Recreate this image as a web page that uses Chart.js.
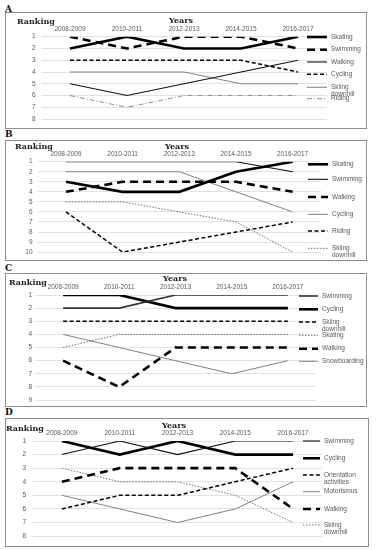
<!DOCTYPE html>
<html>
<head>
<meta charset="utf-8">
<script src="https://cdn.jsdelivr.net/npm/chart.js@4.4.1/dist/chart.umd.min.js"></script>
<style>
  body { margin: 0; width: 376px; height: 550px; background: #fff; position: relative; overflow: hidden; }
  .letter { position: absolute; left: 5px; font: bold 9px "DejaVu Serif", serif; color: #111; line-height: 10px; }
  .box { position: absolute; border: 1.5px solid #8c8c8c; box-sizing: border-box; }
  canvas { position: absolute; }
</style>
</head>
<body>
<script>
// years shown on the top axis
const years = ['2008-2009', '2010-2011', '2012-2013', '2014-2015', '2016-2017'];

// A
const namesA = ['Skating', 'Swimming', 'Walking', 'Cycling', 'Skiing\ndownhill', 'Riding'];
const ranksA = [
  [2, 1, 2, 2, 1],
  [1, 2, 1, 1, 2],
  [5, 6, 5, 4, 3],
  [3, 3, 3, 3, 4],
  [4, 4, 4, 5, 5],
  [6, 7, 6, 6, 6]
];
const maxA = 8;

// B
const namesB = ['Skating', 'Swimming', 'Walking', 'Cycling', 'Riding', 'Skiing\ndownhill'];
const ranksB = [
  [3, 4, 4, 2, 1],
  [1, 1, 1, 1, 2],
  [4, 3, 3, 3, 4],
  [2, 2, 2, 4, 6],
  [6, 10, 9, 8, 7],
  [5, 5, 6, 7, 10]
];
const maxB = 10;

// C
const namesC = ['Swimming', 'Cycling', 'Skiing\ndownhill', 'Skating', 'Walking', 'Snowboarding'];
const ranksC = [
  [2, 2, 1, 1, 1],
  [1, 1, 2, 2, 2],
  [3, 3, 3, 3, 3],
  [5, 4, 4, 4, 4],
  [6, 8, 5, 5, 5],
  [4, 5, 6, 7, 6]
];
const maxC = 9;

// D
const namesD = ['Swimming', 'Cycling', 'Orientation\nactivities', 'Motorismus', 'Walking', 'Skiing\ndownhill'];
const ranksD = [
  [2, 1, 2, 1, 1],
  [1, 2, 1, 2, 2],
  [6, 5, 5, 4, 3],
  [5, 6, 7, 6, 4],
  [4, 3, 3, 3, 6],
  [3, 4, 4, 5, 7]
];
const maxD = 8;

// line looks
const thick = { c: '#000', w: 2.6, d: [] };
const thickDash = { c: '#000', w: 2.6, d: [8, 5] };
const thin = { c: '#111', w: 1.1, d: [] };
const medDash = { c: '#000', w: 1.5, d: [4, 2.5] };
const grey = { c: '#808080', w: 1, d: [] };
const dashDot = { c: '#8c8c8c', w: 1, d: [5, 2, 1, 2] };
const dotted = { c: '#707070', w: 1, d: [1.5, 1.5] };
const medium = { c: '#333', w: 1.6, d: [] };

const SANS = 'Liberation Sans';
const TXT = '#595959';

const panels = [
  { letter: 'A', letterY: 4, box: [5, 12, 362, 117], area: [36.5, 24.7, 321.5, 110.7], max: maxA,
    names: namesA, ranks: ranksA, looks: [thick, thickDash, thin, medDash, grey, dashDot], yPad: 6,
    rank: [12, 9.7], yrs: [164, 8.7], leg: { x0: 302, x1: 322, tx: 326, ys: [25, 37.7, 50, 62.3, 75.3, 86.7] } },
  { letter: 'B', letterY: 129, box: [5, 140, 362, 121], area: [32.6, 21.7, 316, 115.7], max: maxB,
    names: namesB, ranks: ranksB, looks: [thick, thin, thickDash, grey, medDash, dotted], yPad: 5,
    rank: [10, 6.7], yrs: [160, 6.7], leg: { x0: 303, x1: 323, tx: 327, ys: [24.3, 39.3, 57, 74.3, 91, 108.3] } },
  { letter: 'C', letterY: 263, box: [5, 273, 362, 134], area: [30, 22, 311, 127.7], max: maxC,
    names: namesC, ranks: ranksC, looks: [medium, thick, medDash, dotted, thickDash, grey], yPad: 3,
    rank: [4, 9.7], yrs: [158, 6], leg: { x0: 294, x1: 313, tx: 317, ys: [23, 36.3, 49, 62.3, 75.7, 88.3] } },
  { letter: 'D', letterY: 407, box: [5, 418, 364, 129], area: [28, 23, 317, 123], max: maxD,
    names: namesD, ranks: ranksD, looks: [thin, thick, medDash, grey, thickDash, dotted], yPad: 7,
    rank: [1, 11], yrs: [157, 8.3], leg: { x0: 298, x1: 315, tx: 319, ys: [23, 40.3, 57, 73.7, 91, 107] } }
];

// draws the titles and the legend on the right
const extras = {
  id: 'extras',
  afterDraw(chart, args, opts) {
    const p = opts.p;
    const ctx = chart.ctx;
    ctx.save();
    ctx.fillStyle = '#222';
    ctx.font = 'bold 8px "DejaVu Serif"';
    ctx.textBaseline = 'middle';
    ctx.textAlign = 'left';
    ctx.fillText('Ranking', p.rank[0], p.rank[1]);
    ctx.fillText('Years', p.yrs[0], p.yrs[1]);

    ctx.font = '6.5px "' + SANS + '"';
    chart.data.datasets.forEach((ds, i) => {
      const y = p.leg.ys[i];
      ctx.strokeStyle = ds.borderColor;
      ctx.lineWidth = ds.borderWidth;
      ctx.setLineDash(ds.borderDash);
      ctx.beginPath();
      ctx.moveTo(p.leg.x0, y);
      ctx.lineTo(p.leg.x1, y);
      ctx.stroke();
      ctx.setLineDash([]);
      ctx.fillStyle = TXT;
      ds.label.split('\n').forEach((ln, k) => ctx.fillText(ln, p.leg.tx, y + k * 7));
    });
    ctx.restore();
  }
};

panels.forEach(p => {
  const [bx, by, bw, bh] = p.box;
  const lt = document.createElement('div');
  lt.className = 'letter';
  lt.style.top = p.letterY + 'px';
  lt.textContent = p.letter;
  document.body.appendChild(lt);

  const box = document.createElement('div');
  box.className = 'box';
  Object.assign(box.style, { left: bx + 'px', top: by + 'px', width: bw + 'px', height: bh + 'px' });
  document.body.appendChild(box);

  const cv = document.createElement('canvas');
  cv.width = bw; cv.height = bh;
  Object.assign(cv.style, { left: bx + 'px', top: by + 'px', width: bw + 'px', height: bh + 'px' });
  document.body.appendChild(cv);

  const [al, at, ar, ab] = p.area;
  const xH = 14, yW = 18;

  new Chart(cv, {
    type: 'line',
    data: {
      labels: years,
      datasets: p.names.map((n, i) => ({
        label: n,
        data: p.ranks[i],
        borderColor: p.looks[i].c,
        borderWidth: p.looks[i].w,
        borderDash: p.looks[i].d,
        pointRadius: 0,
        fill: false,
        tension: 0
      }))
    },
    options: {
      responsive: false,
      animation: false,
      events: [],
      layout: { padding: { left: al - yW, top: at - xH, right: bw - ar, bottom: bh - ab } },
      plugins: { legend: { display: false }, tooltip: { enabled: false }, extras: { p: p } },
      scales: {
        x: {
          position: 'top',
          offset: true,
          grid: { display: false, drawTicks: false },
          border: { display: false },
          ticks: { font: { family: SANS, size: 6.5 }, color: TXT, padding: 4, maxRotation: 0, autoSkip: false },
          afterFit: s => { s.height = xH; }
        },
        y: {
          reverse: true,
          min: 1,
          max: p.max,
          grid: { color: '#d9d9d9', lineWidth: 0.8, drawTicks: false },
          border: { display: false },
          ticks: { stepSize: 1, autoSkip: false, font: { family: SANS, size: 6.5 }, color: TXT, padding: p.yPad },
          afterFit: s => { s.width = yW; }
        }
      }
    },
    plugins: [extras]
  });
});
</script>
</body>
</html>
